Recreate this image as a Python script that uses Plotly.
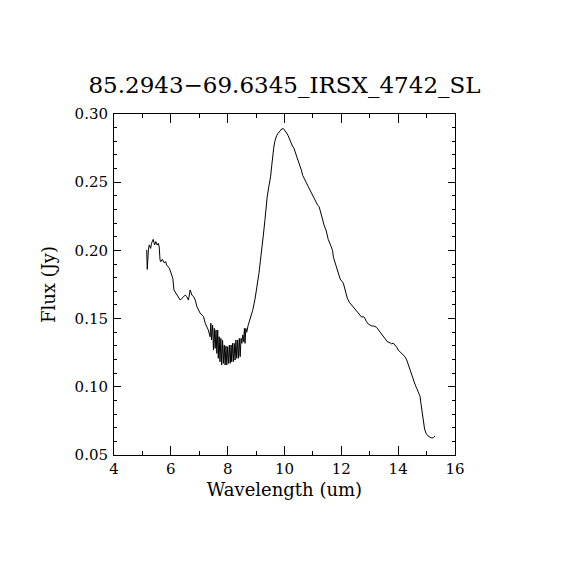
import plotly.graph_objects as go

# Spectrum.
wavelength = [
    5.15, 5.16, 5.17, 5.21, 5.24, 5.29, 5.32, 5.38, 5.41, 5.43, 5.47, 5.52, 5.56, 5.59,
    5.62, 5.65, 5.70, 5.76, 5.82, 5.85, 5.95, 6.00, 6.07, 6.11, 6.21, 6.27, 6.33, 6.39,
    6.45, 6.51, 6.56, 6.62, 6.68, 6.74, 6.80, 6.86, 6.92, 6.98, 7.03, 7.15, 7.21, 7.32,
    7.38,
    7.41, 7.43, 7.47, 7.50, 7.53, 7.56, 7.59, 7.62, 7.65, 7.67, 7.70, 7.73, 7.76, 7.79,
    7.82, 7.85, 7.88, 7.91, 7.94, 7.97, 8.00, 8.03, 8.06, 8.09, 8.12, 8.14, 8.17, 8.20,
    8.23, 8.26, 8.29, 8.32, 8.35, 8.38, 8.41, 8.44, 8.47, 8.50, 8.53, 8.56, 8.59, 8.61,
    8.64, 8.67,
    8.72, 8.80, 8.88, 8.96, 9.04, 9.10, 9.15, 9.20, 9.26, 9.31, 9.35, 9.39, 9.45, 9.51,
    9.55, 9.58, 9.62, 9.66, 9.72, 9.78, 9.84, 9.90, 9.96, 10.02, 10.08, 10.13, 10.18,
    10.22, 10.28, 10.33, 10.38, 10.43, 10.48, 10.54, 10.59, 10.64, 10.70, 10.76, 10.83,
    10.90, 10.96, 11.01, 11.06, 11.11, 11.17, 11.22, 11.28, 11.34, 11.40, 11.46, 11.50,
    11.54, 11.62, 11.69, 11.72, 11.80, 11.89, 11.96, 12.07, 12.14, 12.21, 12.28, 12.36,
    12.45, 12.54, 12.63, 12.72, 12.77, 12.81, 12.88, 12.95, 13.07, 13.15, 13.24, 13.30,
    13.36, 13.45, 13.54, 13.62, 13.71, 13.77, 13.83, 13.89, 13.95, 14.00, 14.09, 14.18,
    14.24, 14.30, 14.36, 14.42, 14.47, 14.53, 14.59, 14.65, 14.71, 14.77, 14.80, 14.83,
    14.86, 14.88, 14.93, 14.98, 15.05, 15.12, 15.18, 15.24, 15.30,
]
flux = [
    0.2003, 0.1905, 0.1861, 0.2003, 0.2040, 0.2015, 0.2052, 0.2081, 0.2052, 0.2040,
    0.2064, 0.2040, 0.2052, 0.2027, 0.1930, 0.1917, 0.1935, 0.1910, 0.1917, 0.1893,
    0.1869, 0.1844, 0.1795, 0.1710, 0.1673, 0.1660, 0.1636, 0.1649, 0.1660, 0.1673,
    0.1660, 0.1636, 0.1710, 0.1673, 0.1660, 0.1636, 0.1587, 0.1563, 0.1540, 0.1515,
    0.1466, 0.1416, 0.1367,
    0.1466, 0.1343, 0.1453, 0.1270, 0.1428, 0.1282, 0.1416, 0.1245, 0.1416, 0.1209,
    0.1367, 0.1184, 0.1355, 0.1160, 0.1343, 0.1172, 0.1306, 0.1160, 0.1299, 0.1160,
    0.1294, 0.1172, 0.1306, 0.1172, 0.1306, 0.1184, 0.1319, 0.1184, 0.1319, 0.1196,
    0.1343, 0.1209, 0.1343, 0.1209, 0.1355, 0.1221, 0.1355, 0.1319, 0.1380, 0.1331,
    0.1428, 0.1319, 0.1428, 0.1400,
    0.1450, 0.1500, 0.1560, 0.1640, 0.1740, 0.1830, 0.1920, 0.2000, 0.2120, 0.2220,
    0.2310, 0.2390, 0.2470, 0.2540, 0.2620, 0.2690, 0.2750, 0.2800, 0.2840, 0.2860,
    0.2880, 0.2890, 0.2893, 0.2880, 0.2860, 0.2840, 0.2810, 0.2785, 0.2765, 0.2750,
    0.2720, 0.2690, 0.2660, 0.2630, 0.2590, 0.2550, 0.2520, 0.2500, 0.2470, 0.2440,
    0.2410, 0.2390, 0.2370, 0.2350, 0.2330, 0.2320, 0.2270, 0.2220, 0.2180, 0.2150,
    0.2110, 0.2080, 0.2040, 0.2000, 0.1950, 0.1900, 0.1830, 0.1790, 0.1760, 0.1700,
    0.1650, 0.1620, 0.1600, 0.1570, 0.1550, 0.1530, 0.1510, 0.1515, 0.1510, 0.1480,
    0.1460, 0.1446, 0.1445, 0.1436, 0.1420, 0.1405, 0.1380, 0.1350, 0.1330, 0.1323,
    0.1315, 0.1320, 0.1307, 0.1290, 0.1270, 0.1250, 0.1233, 0.1220, 0.1197, 0.1160,
    0.1110, 0.1080, 0.1050, 0.1020, 0.0990, 0.0960, 0.0930, 0.0880, 0.0830, 0.0780,
    0.0732, 0.0690, 0.0660, 0.0640, 0.0630, 0.0625, 0.0627, 0.0640,
]

title = "85.2943\u221269.6345_IRSX_4742_SL"
font = "DejaVu Serif"

fig = go.Figure(go.Scatter(x=wavelength, y=flux, mode="lines",
                           line=dict(color="black", width=1)))

axis_style = dict(showgrid=False, zeroline=False, showline=True, linecolor="black",
                  linewidth=1, mirror="ticks", ticks="inside", tickcolor="black",
                  automargin=False,
                  tickfont=dict(family=font, size=15, color="black"))

# the page body adds ~8px offset, so the margins are trimmed on the left/top
fig.update_layout(
    width=570, height=570,
    margin=dict(l=106, r=123, t=106, b=123),
    paper_bgcolor="white", plot_bgcolor="white",
    showlegend=False,
    title=dict(text=title, xref="paper", x=0.5, xanchor="center", y=0.865, yanchor="middle",
               font=dict(family=font, size=23, color="black")),
)
fig.update_xaxes(range=[4, 16], dtick=2, ticklen=9,
                 minor=dict(dtick=1, ticklen=4, ticks="inside", tickcolor="black"),
                 title=dict(text="Wavelength (um)", font=dict(family=font, size=18, color="black"),
                            standoff=6),
                 **axis_style)
fig.update_yaxes(range=[0.05, 0.30], dtick=0.05, tickformat=".2f", ticklen=7,
                 ticklabelstandoff=2,
                 minor=dict(dtick=0.01, ticklen=3, ticks="inside", tickcolor="black"),
                 title=dict(text="Flux (Jy)", font=dict(family=font, size=18, color="black"),
                            standoff=14),
                 **axis_style)

fig.write_html("out.html")
